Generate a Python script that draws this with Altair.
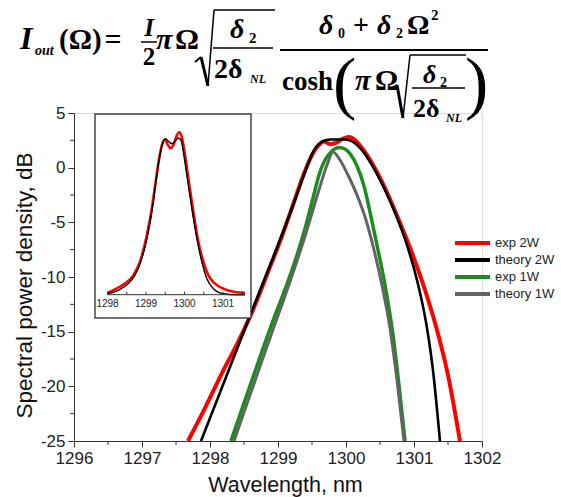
import altair as alt
import pandas as pd

# ---------------- data ----------------
# main panel: wavelength (nm) and spectral power density (dB)
exp2w_nm = [1297.676, 1297.926, 1298.176, 1298.412, 1298.618, 1298.853, 1299.059, 1299.235, 1299.368,
            1299.485, 1299.588, 1299.676, 1299.765, 1299.853, 1299.956, 1300.044, 1300.132, 1300.235,
            1300.382, 1300.574, 1300.765, 1300.971, 1301.162, 1301.338, 1301.500, 1301.676]
exp2w_db = [-25.0, -21.99, -18.79, -15.95, -13.21, -9.55, -6.25, -3.14, -0.76,
            0.97, 1.98, 2.39, 2.16, 2.26, 2.67, 2.80, 2.53, 1.80,
            0.43, -1.86, -4.61, -7.81, -11.19, -14.85, -18.97, -25.0]

th2w_nm = [1297.868, 1298.294, 1298.662, 1299.029, 1299.250, 1299.397, 1299.515, 1299.618, 1299.765,
           1299.985, 1300.103, 1300.235, 1300.382, 1300.559, 1300.735, 1300.897, 1301.044, 1301.176,
           1301.279, 1301.382]
th2w_db = [-25.0, -18.24, -12.38, -6.62, -2.96, -0.40, 1.43, 2.26, 2.58,
           2.58, 2.35, 1.61, 0.24, -1.86, -4.33, -7.08, -10.28, -14.12,
           -18.51, -25.0]

exp1w_nm = [1298.309, 1298.515, 1298.735, 1298.941, 1299.132, 1299.294, 1299.412, 1299.515, 1299.603,
            1299.691, 1299.794, 1299.897, 1299.985, 1300.074, 1300.162, 1300.265, 1300.353, 1300.456,
            1300.574, 1300.691, 1300.779, 1300.868]
exp1w_db = [-25.0, -21.26, -17.32, -13.76, -10.65, -7.72, -5.25, -2.78, -0.67,
            0.70, 1.52, 1.84, 1.71, 1.16, 0.15, -1.68, -4.06, -7.08,
            -10.74, -15.31, -19.89, -25.0]

th1w_nm = [1298.353, 1298.588, 1298.809, 1299.029, 1299.235, 1299.426, 1299.588, 1299.721, 1299.809,
           1299.912, 1300.029, 1300.162, 1300.294, 1300.412, 1300.529, 1300.647, 1300.750, 1300.853]
th1w_db = [-25.0, -20.8, -16.87, -13.02, -9.36, -5.70, -2.32, 0.24, 1.43,
           0.70, -0.67, -2.50, -4.79, -7.53, -10.74, -14.67, -19.43, -25.0]

# inset: wavelength (nm) and linear intensity (a.u.)
in_th_nm = [1298.00, 1298.28, 1298.54, 1298.71, 1298.89, 1299.06, 1299.19, 1299.28, 1299.36, 1299.45,
            1299.51, 1299.58, 1299.67, 1299.75, 1299.84, 1299.91, 1299.97, 1300.06, 1300.19, 1300.32,
            1300.45, 1300.58, 1300.75, 1301.01, 1301.31, 1301.57]
in_th_v = [0.006, 0.027, 0.068, 0.119, 0.221, 0.385, 0.570, 0.734, 0.857, 0.939,
           0.959, 0.943, 0.928, 0.943, 0.963, 0.949, 0.877, 0.734, 0.529, 0.344,
           0.201, 0.098, 0.037, 0.006, 0.0, 0.0]
in_exp_nm = [1298.00, 1298.19, 1298.45, 1298.67, 1298.84, 1299.02, 1299.15, 1299.25, 1299.34, 1299.41,
             1299.49, 1299.56, 1299.63, 1299.71, 1299.80, 1299.86, 1299.93, 1300.00, 1300.10, 1300.23,
             1300.36, 1300.49, 1300.62, 1300.79, 1301.05, 1301.31, 1301.57]
in_exp_v = [0.011, 0.033, 0.068, 0.119, 0.201, 0.365, 0.529, 0.693, 0.836, 0.918,
            0.955, 0.925, 0.901, 0.918, 0.979, 1.0, 0.969, 0.877, 0.713, 0.508,
            0.324, 0.201, 0.119, 0.068, 0.033, 0.017, 0.011]

series_names = ["exp 2W", "theory 2W", "exp 1W", "theory 1W"]
series_colors = ["#ff0000", "#000000", "#1c8c1c", "#636363"]

x_major = [1296, 1297, 1298, 1299, 1300, 1301, 1302]
x_minor = [1296.5, 1297.5, 1298.5, 1299.5, 1300.5, 1301.5]
y_major = [-25, -20, -15, -10, -5, 0, 5]
y_minor = [2.5, -2.5, -7.5, -12.5, -17.5, -22.5]
in_x_major = [1298, 1299, 1300, 1301]
in_x_ticks = [1298, 1298.5, 1299, 1299.5, 1300, 1300.5, 1301, 1301.5]

# ---------------- layout ----------------
OX, OY = 74, 113          # plot-area origin in the page
W, H = 408, 328
SANS = "Liberation Sans"
SERIF = "Liberation Serif"

main_df = pd.concat([
    pd.DataFrame({"nm": exp2w_nm, "db": exp2w_db, "series": "exp 2W"}),
    pd.DataFrame({"nm": th2w_nm, "db": th2w_db, "series": "theory 2W"}),
    pd.DataFrame({"nm": exp1w_nm, "db": exp1w_db, "series": "exp 1W"}),
    pd.DataFrame({"nm": th1w_nm, "db": th1w_db, "series": "theory 1W"}),
], ignore_index=True)

xs = alt.Scale(domain=[1296, 1302], nice=False, zero=False)
ys = alt.Scale(domain=[-25, 5], nice=False, zero=False)

xaxis = alt.Axis(values=x_major, labelExpr="toString(datum.value)", labelFlush=False, tickSize=6,
                 tickColor="#333", domainColor="#333", labelFont=SANS, labelFontSize=17, labelColor="#222",
                 labelPadding=3, title="Wavelength, nm", titleFont=SANS, titleFontSize=21.5,
                 titleFontWeight="normal", titleColor="#111", titlePadding=8, titleX=211, grid=False)
yaxis = alt.Axis(values=y_major, labelExpr="toString(datum.value)", labelFlush=False, tickSize=6,
                 tickColor="#333", domainColor="#333", labelFont=SANS, labelFontSize=17, labelColor="#222",
                 labelPadding=3, title="Spectral power density, dB", titleFont=SANS, titleFontSize=22.5,
                 titleFontWeight="normal", titleColor="#111", titlePadding=4, titleY=172, grid=False)

color = alt.Color("series:N",
                  scale=alt.Scale(domain=series_names, range=series_colors),
                  legend=alt.Legend(title=None, orient="none", legendX=379, legendY=123,
                                    symbolType="stroke", symbolSize=1225, symbolStrokeWidth=4,
                                    clipHeight=14, rowPadding=3, padding=0, labelOffset=3,
                                    labelFont=SANS, labelFontSize=13, labelColor="#222"))

def main_line(name, w):
    return alt.Chart(main_df).transform_filter(alt.datum.series == name).mark_line(
        strokeWidth=w, interpolate="monotone", clip=True).encode(
        x=alt.X("nm:Q", scale=xs, axis=xaxis),
        y=alt.Y("db:Q", scale=ys, axis=yaxis),
        color=color)

minor_x = alt.Chart(pd.DataFrame({"nm": x_minor})).mark_rule(color="#333", strokeWidth=1).encode(
    x=alt.X("nm:Q", scale=xs, axis=xaxis), y=alt.value(H), y2=alt.value(H + 4))
minor_y = alt.Chart(pd.DataFrame({"db": y_minor})).mark_rule(color="#333", strokeWidth=1).encode(
    y=alt.Y("db:Q", scale=ys, axis=yaxis), x=alt.value(-4), x2=alt.value(0))

main = alt.layer(main_line("exp 2W", 4), main_line("theory 2W", 2.6),
                 main_line("exp 1W", 3.5), main_line("theory 1W", 3), minor_x, minor_y)

one = pd.DataFrame({"a": [0]})

# inset frame
box = alt.Chart(one).mark_rect(fill="white", stroke="#444", strokeWidth=1.5).encode(
    x=alt.value(95 - OX), x2=alt.value(251 - OX), y=alt.value(114 - OY), y2=alt.value(318 - OY))

# inset panel (own scales, drawn inside the frame)
IN_AX_Y = 294.7 - OY
ix = alt.Scale(domain=[1298, 1301.57], range=[107.5 - OX, 245 - OX], nice=False, zero=False)
iy = alt.Scale(domain=[0, 1], range=[IN_AX_Y, 132 - OY], nice=False, zero=False)

in_exp_df = pd.DataFrame({"nm": in_exp_nm, "v": in_exp_v})
in_th_df = pd.DataFrame({"nm": in_th_nm, "v": in_th_v})
in_red = alt.Chart(in_exp_df).mark_line(color="#ff0000", strokeWidth=2.6, interpolate="monotone").encode(
    x=alt.X("nm:Q", scale=ix, axis=None), y=alt.Y("v:Q", scale=iy, axis=None))
in_black = alt.Chart(in_th_df).mark_line(color="#000000", strokeWidth=1.4, interpolate="monotone").encode(
    x=alt.X("nm:Q", scale=ix, axis=None), y=alt.Y("v:Q", scale=iy, axis=None))
in_domain = alt.Chart(one).mark_rule(color="#333", strokeWidth=1).encode(
    x=alt.value(107.5 - OX), x2=alt.value(245 - OX), y=alt.value(IN_AX_Y))
in_ticks = alt.Chart(pd.DataFrame({"nm": in_x_ticks})).mark_rule(color="#333", strokeWidth=1).encode(
    x=alt.X("nm:Q", scale=ix, axis=None), y=alt.value(IN_AX_Y - 3), y2=alt.value(IN_AX_Y))
in_labels = alt.Chart(pd.DataFrame({"nm": in_x_major})).mark_text(
    font=SANS, fontSize=10, color="#222", baseline="top", align="center").encode(
    x=alt.X("nm:Q", scale=ix, axis=None), y=alt.value(IN_AX_Y + 4), text=alt.Text("nm:Q", format="d"))
inset = alt.layer(in_red, in_black, in_domain, in_ticks, in_labels)

# ---------------- formula (text pieces) ----------------
def T(s, x, y, size, style="normal", weight="bold", align="left"):
    return alt.Chart(one).mark_text(text=s, font=SERIF, fontSize=size, fontStyle=style,
                                    fontWeight=weight, align=align, baseline="alphabetic",
                                    color="black").encode(x=alt.value(x - OX), y=alt.value(y - OY))

def R(x1, y1, x2, y2, w=1.5):
    return alt.Chart(one).mark_rule(color="black", strokeWidth=w).encode(
        x=alt.value(x1 - OX), y=alt.value(y1 - OY), x2=alt.value(x2 - OX), y2=alt.value(y2 - OY))

formula = [
    T("I", 20, 49, 32, "italic"), T("out", 35, 55, 14, "italic"),
    T("(Ω)", 59, 49, 29), T("=", 113, 49, 30, align="center"),
    T("I", 149, 36, 25, "italic", align="center"), R(141, 42, 157, 42, 1.5), T("2", 149, 65, 25, align="center"),
    T("π", 156, 49, 30, "italic"), T("Ω", 175, 49, 30),
    R(195, 62, 201, 57, 2), R(201, 57, 208, 86, 3), R(208, 86, 214, 10, 1.5), R(214, 10, 275, 10, 1.5),
    T("δ", 230, 38, 28, "italic"), T("2", 249, 43, 15),
    R(213, 48, 273, 48, 1.5),
    T("2δ", 214, 78, 28), T("NL", 250, 83, 12, "italic"),
    T("δ", 319, 34, 28, "italic"), T("0", 338, 38, 14), T("+", 353, 34, 28),
    T("δ", 377, 34, 28, "italic"), T("2", 396, 38, 14), T("Ω", 407, 34, 28), T("2", 431, 20, 15),
    R(280, 50, 488, 50, 1.8),
    T("cosh", 282, 90, 27),
    T("(", 333, 106, 70, weight="normal"), T(")", 465, 106, 70, weight="normal"),
    T("π", 355, 90, 29, "italic"), T("Ω", 375, 90, 29),
    R(392, 88, 397, 85, 2), R(397, 85, 403, 118, 3), R(403, 118, 410, 55, 1.5), R(410, 55, 466, 55, 1.5),
    T("δ", 423, 83, 26, "italic"), T("2", 440, 87, 14),
    R(412, 88, 465, 88, 1.5),
    T("2δ", 413, 117, 26), T("NL", 446, 122, 12, "italic"),
]

chart = alt.layer(main, box, inset, *formula).resolve_scale(
    x="independent", y="independent"
).properties(
    width=W, height=H,
    autosize=alt.AutoSizeParams(type="none"),
    padding={"left": OX, "top": OY, "right": 561 - OX - W, "bottom": 497 - OY - H},
).configure_view(stroke=None).configure(background="white")

chart.save("out.html", embed_options={"renderer": "svg", "actions": False})
